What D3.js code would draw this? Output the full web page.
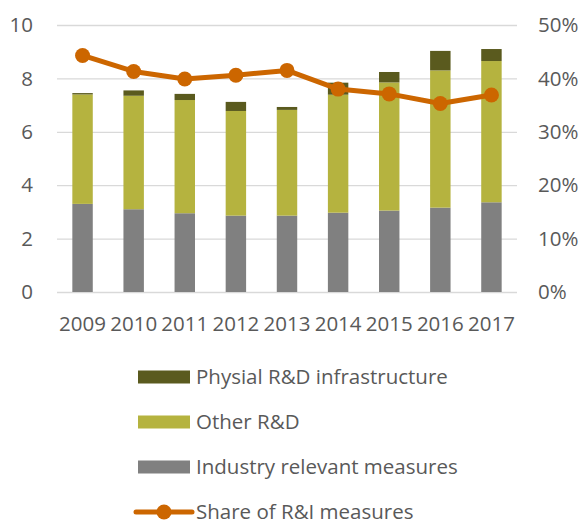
<!DOCTYPE html>
<html>
<head>
<meta charset="utf-8">
<script src="https://cdn.jsdelivr.net/npm/d3@7"></script>
<style>
  body { margin: 0; background: #fff; }
  svg { display: block; }
  text { font-family: "Open Sans", sans-serif; fill: #595959; }
</style>
</head>
<body>
<svg id="chart" width="584" height="520"></svg>
<script>
const years = ["2009", "2010", "2011", "2012", "2013", "2014", "2015", "2016", "2017"];
const industry = [3.30, 3.10, 2.95, 2.86, 2.86, 2.97, 3.05, 3.16, 3.36];
const otherRD = [4.10, 4.25, 4.24, 3.92, 3.96, 4.42, 4.80, 5.14, 5.29];
const physical = [0.05, 0.20, 0.23, 0.34, 0.11, 0.45, 0.39, 0.73, 0.45];
const share = [0.443, 0.413, 0.399, 0.406, 0.415, 0.380, 0.371, 0.353, 0.369];
const leftTicks = [0, 2, 4, 6, 8, 10];
const rightTicks = [0, 0.1, 0.2, 0.3, 0.4, 0.5];

const seriesNames = ["Industry relevant measures", "Other R&D", "Physial R&D infrastructure"];
const colors = ["#808080", "#b5b33f", "#5a5a1e"];
const lineColor = "#cc6600";

const svg = d3.select("#chart");
const margin = { top: 25, right: 67, bottom: 228, left: 57 };
const innerWidth = 584 - margin.left - margin.right;
const innerHeight = 520 - margin.top - margin.bottom;

const g = svg.append("g").attr("transform", `translate(${margin.left},${margin.top})`);

const x = d3.scaleBand().domain(years).range([0, innerWidth]).paddingInner(0.6).paddingOuter(0.3);
const y = d3.scaleLinear().domain([0, 10]).range([innerHeight, 0]);
const y2 = d3.scaleLinear().domain([0, 0.5]).range([innerHeight, 0]);
const pct = d3.format(".0%");

// gridlines
g.append("g")
    .attr("class", "grid")
    .call(d3.axisLeft(y).tickValues(leftTicks).tickSize(-innerWidth).tickFormat(""))
    .call(s => s.select(".domain").remove())
    .call(s => s.selectAll("text").remove())
    .call(s => s.selectAll("line").attr("stroke", "#d9d9d9").attr("stroke-width", 1.3));

// stacked bars
const rows = years.map((yr, i) => ({ year: yr, a: industry[i], b: otherRD[i], c: physical[i] }));
const stack = d3.stack().keys(["a", "b", "c"])(rows);

g.selectAll(".layer")
    .data(stack)
    .join("g")
    .attr("fill", (d, i) => colors[i])
    .selectAll("rect")
    .data(d => d)
    .join("rect")
    .attr("x", d => x(d.data.year))
    .attr("width", x.bandwidth())
    .attr("y", d => y(d[1]))
    .attr("height", d => y(d[0]) - y(d[1]));

// share line
const line = d3.line()
    .x((d, i) => x(years[i]) + x.bandwidth() / 2)
    .y(d => y2(d));

g.append("path")
    .datum(share)
    .attr("fill", "none")
    .attr("stroke", lineColor)
    .attr("stroke-width", 5)
    .attr("stroke-linejoin", "round")
    .attr("d", line);

g.selectAll(".dot")
    .data(share)
    .join("circle")
    .attr("cx", (d, i) => x(years[i]) + x.bandwidth() / 2)
    .attr("cy", d => y2(d))
    .attr("r", 7.5)
    .attr("fill", lineColor);

// tick labels
g.append("g").selectAll("text")
    .data(leftTicks)
    .join("text")
    .attr("x", -24)
    .attr("y", d => y(d))
    .attr("dy", "0.35em")
    .attr("text-anchor", "end")
    .style("font-size", "20.5px")
    .text(d => d);

g.append("g").selectAll("text")
    .data(rightTicks)
    .join("text")
    .attr("x", innerWidth + 21)
    .attr("y", d => y2(d))
    .attr("dy", "0.35em")
    .attr("text-anchor", "start")
    .style("font-size", "20.5px")
    .text(d => pct(d));

g.append("g").selectAll("text")
    .data(years)
    .join("text")
    .attr("x", d => x(d) + x.bandwidth() / 2)
    .attr("y", innerHeight + 32)
    .attr("dy", "0.35em")
    .attr("text-anchor", "middle")
    .style("font-size", "20.5px")
    .text(d => d);

// legend
const legendItems = [
    { name: seriesNames[2], color: colors[2], type: "rect" },
    { name: seriesNames[1], color: colors[1], type: "rect" },
    { name: seriesNames[0], color: colors[0], type: "rect" },
    { name: "Share of R&I measures", color: lineColor, type: "line" }
];

const legend = svg.append("g").attr("transform", "translate(138,377)");
const li = legend.selectAll("g")
    .data(legendItems)
    .join("g")
    .attr("transform", (d, i) => `translate(0,${i * 45})`);

li.filter(d => d.type === "rect").append("rect")
    .attr("x", 0).attr("y", -6.5).attr("width", 52).attr("height", 13)
    .attr("fill", d => d.color);
li.filter(d => d.type === "line").append("line")
    .attr("x1", -2).attr("x2", 54).attr("y1", 0).attr("y2", 0)
    .attr("stroke", d => d.color).attr("stroke-width", 5).attr("stroke-linecap", "round");
li.filter(d => d.type === "line").append("circle")
    .attr("cx", 26).attr("cy", 0).attr("r", 7.5).attr("fill", d => d.color);

li.append("text")
    .attr("x", 58)
    .attr("dy", "0.35em")
    .style("font-size", "20.5px")
    .text(d => d.name);
</script>
</body>
</html>
